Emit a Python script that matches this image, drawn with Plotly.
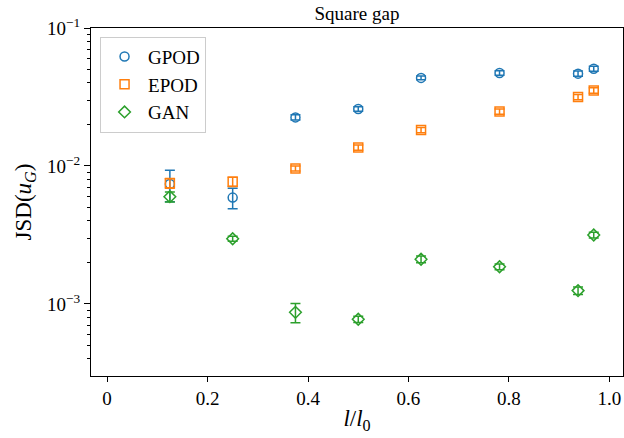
import plotly.graph_objects as go

# ---- data ----
x_vals = [0.125, 0.25, 0.375, 0.5, 0.625, 0.78125, 0.9375, 0.96875]

gpod = [7.4e-3, 5.9e-3, 0.0225, 0.0259, 0.0435, 0.0472, 0.0467, 0.0507]
gpod_err = [1.9e-3, 1.0e-3, 1.0e-3, 1.0e-3, 1.4e-3, 1.8e-3, 2.0e-3, 2.2e-3]

epod = [7.5e-3, 7.7e-3, 9.6e-3, 0.0136, 0.0182, 0.0248, 0.0316, 0.0353]
epod_err = [0.6e-3, 0.6e-3, 0.4e-3, 0.6e-3, 0.8e-3, 1.1e-3, 1.4e-3, 1.6e-3]

gan = [5.99e-3, 2.97e-3, 8.7e-4, 7.75e-4, 2.11e-3, 1.86e-3, 1.25e-3, 3.16e-3]
gan_err = [0.5e-3, 1.2e-4, 1.4e-4, 4e-5, 1.2e-4, 9e-5, 8e-5, 1.5e-4]

series_names = ["GPOD", "EPOD", "GAN"]
series_colors = ["#1f77b4", "#ff7f0e", "#2ca02c"]
series_symbols = ["circle-open", "square-open", "diamond-open"]

x_tickvals = [0, 0.2, 0.4, 0.6, 0.8, 1.0]
x_ticktext = ["0", "0.2", "0.4", "0.6", "0.8", "1.0"]
y_tickvals = [1e-3, 1e-2, 1e-1]
y_ticktext = ["10<sup>−3</sup>", "10<sup>−2</sup>", "10<sup>−1</sup>"]

FONT = "Liberation Serif"

fig = go.Figure()
for name, vals, errs, col, sym in zip(series_names, [gpod, epod, gan],
                                      [gpod_err, epod_err, gan_err],
                                      series_colors, series_symbols):
    fig.add_trace(go.Scatter(
        x=x_vals, y=vals, mode="markers", name=name,
        marker=dict(symbol=sym, size=9, color=col, line=dict(width=1.5, color=col)),
        error_y=dict(type="data", array=errs, visible=True, color=col,
                     thickness=1.5, width=5),
    ))

fig.update_layout(
    width=624, height=438,
    margin=dict(l=91, r=1, t=28, b=62, autoexpand=False),
    plot_bgcolor="white", paper_bgcolor="white",
    font=dict(family=FONT, size=18, color="black"),
    title=dict(text="Square gap", x=0.5, xref="paper", y=1 - 13 / 438,
               yref="container", yanchor="middle", xanchor="center",
               font=dict(family=FONT, size=19, color="black")),
    legend=dict(x=0.017, y=0.975, xanchor="left", yanchor="top",
                bgcolor="white", bordercolor="#cccccc", borderwidth=1,
                font=dict(family=FONT, size=19, color="black"),
                itemwidth=37, tracegroupgap=0),
    showlegend=True,
)

fig.update_xaxes(
    range=[-0.032, 1.027], automargin=False,
    tickmode="array", tickvals=x_tickvals, ticktext=x_ticktext,
    ticks="outside", ticklen=5, tickwidth=1, tickcolor="black",
    showline=True, linecolor="black", linewidth=1, mirror=True,
    showgrid=False, zeroline=False,
    title=dict(text="<i>l</i>/<i>l</i><sub>0</sub>", font=dict(family=FONT, size=23), standoff=2),
    tickfont=dict(family=FONT, size=19),
)

fig.update_yaxes(
    type="log", range=[-3.522, -1], automargin=False,
    tickmode="array", tickvals=y_tickvals, ticktext=y_ticktext,
    ticks="outside", ticklen=6, tickwidth=1, tickcolor="black",
    minor=dict(ticks="outside", ticklen=3, tickcolor="black", dtick="D1", showgrid=False),
    showline=True, linecolor="black", linewidth=1, mirror=True,
    showgrid=False, zeroline=False,
    title=dict(text="JSD(<i>u</i><sub><i>G</i></sub>)", font=dict(family=FONT, size=23), standoff=8),
    tickfont=dict(family=FONT, size=19),
)

fig.write_html("out.html", config={"displayModeBar": False},
               post_script="document.body.style.margin='0';")
